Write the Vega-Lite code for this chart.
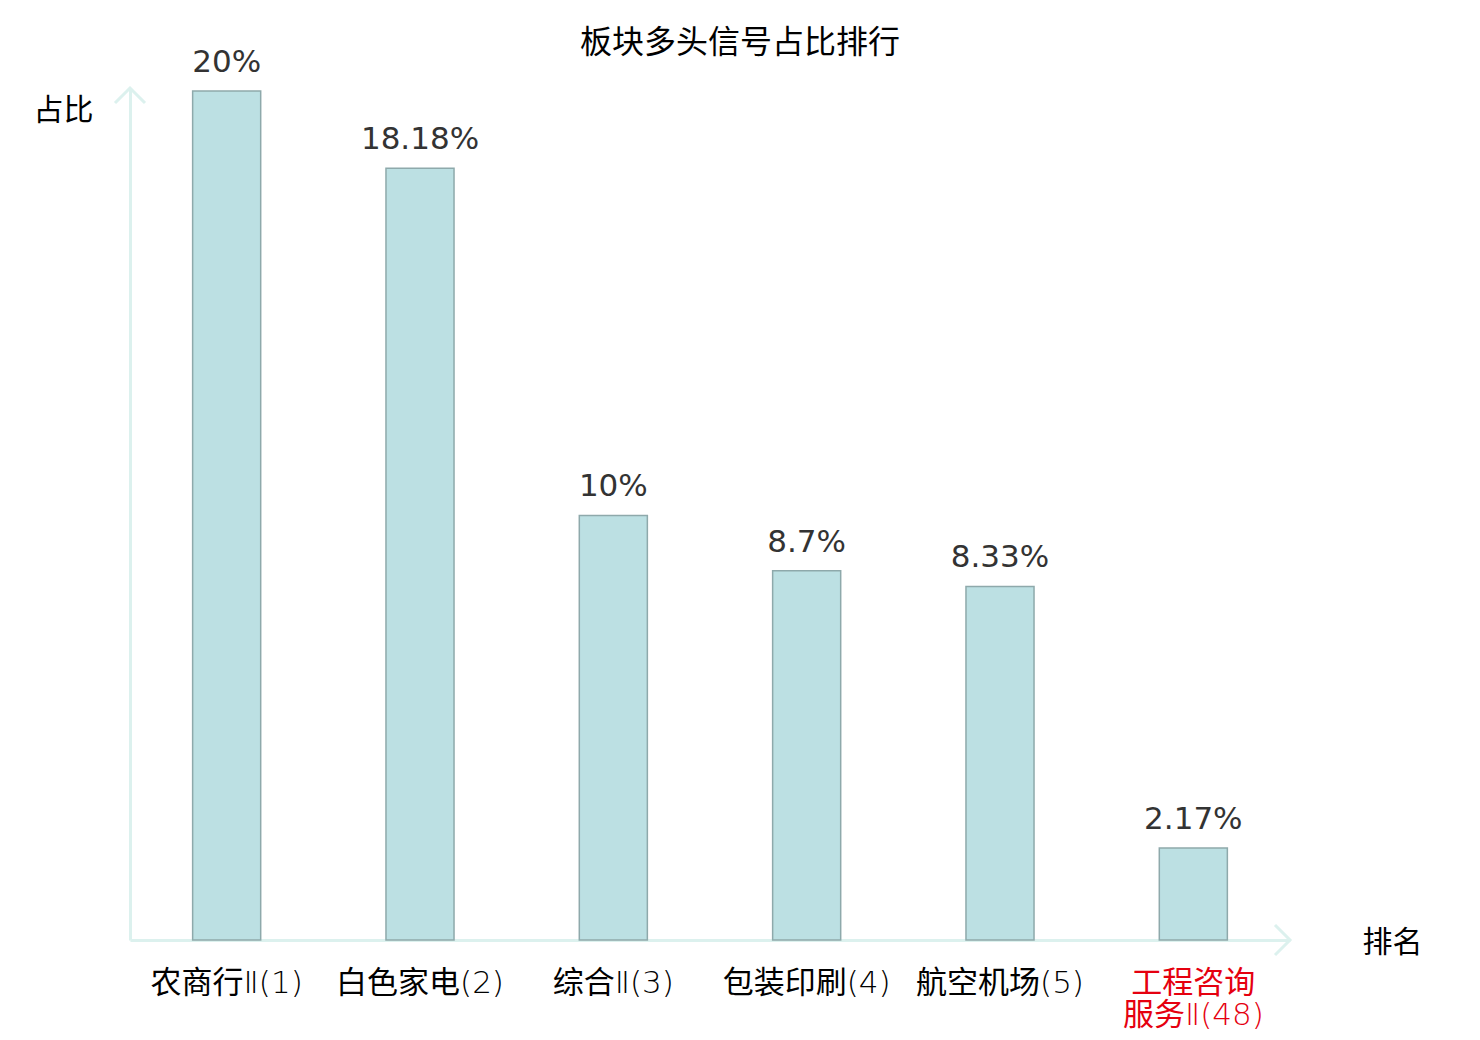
{
  "$schema": "https://vega.github.io/schema/vega-lite/v6.json",
  "autosize": "none",
  "width": 1160,
  "height": 852,
  "padding": {"left": 130, "top": 88, "right": 190, "bottom": 100},
  "background": "white",
  "title": {
    "text": "板块多头信号占比排行",
    "font": "Noto Sans CJK SC",
    "fontSize": 32,
    "fontWeight": "normal",
    "color": "#000000",
    "anchor": "middle",
    "frame": "group",
    "dx": 30,
    "offset": -13
  },
  "data": {
    "values": [
      {"name": "农商行Ⅱ(1)", "ratio": 0.2},
      {"name": "白色家电(2)", "ratio": 0.1818},
      {"name": "综合Ⅱ(3)", "ratio": 0.1},
      {"name": "包装印刷(4)", "ratio": 0.087},
      {"name": "航空机场(5)", "ratio": 0.0833},
      {"name": "工程咨询服务Ⅱ(48)", "ratio": 0.0217}
    ]
  },
  "encoding": {
    "x": {
      "field": "name",
      "type": "nominal",
      "sort": null,
      "scale": {"paddingInner": 0.648, "paddingOuter": 0.324},
      "axis": {
        "title": "排名",
        "titleFont": "Noto Sans CJK SC",
        "titleFontSize": 30,
        "titleFontWeight": "normal",
        "titleColor": "#000000",
        "titleAngle": 0,
        "titleAlign": "left",
        "titleBaseline": "middle",
        "titleX": 1232,
        "titleY": 2,
        "labelAngle": 0,
        "labelFont": "'DejaVu Sans Light', 'Noto Sans CJK SC'",
        "labelFontSize": 31,
        "labelLineHeight": 32,
        "labelBaseline": "top",
        "labelPadding": 28,
        "labelOverlap": false,
        "labelExpr": "datum.value == '工程咨询服务Ⅱ(48)' ? ['工程咨询', '服务Ⅱ(48)'] : datum.value",
        "labelColor": {
          "condition": {"test": "datum.value == '工程咨询服务Ⅱ(48)'", "value": "#e5000f"},
          "value": "#000000"
        },
        "ticks": false,
        "domainColor": "#dcf1ee",
        "domainWidth": 3
      }
    },
    "y": {
      "field": "ratio",
      "type": "quantitative",
      "scale": {"domain": [0, 0.2007], "nice": false},
      "axis": {
        "title": "占比",
        "titleFont": "Noto Sans CJK SC",
        "titleFontSize": 30,
        "titleFontWeight": "normal",
        "titleColor": "#000000",
        "titleAngle": 0,
        "titleAlign": "left",
        "titleBaseline": "middle",
        "titleX": -97,
        "titleY": 22,
        "labels": false,
        "ticks": false,
        "grid": false,
        "domainColor": "#dcf1ee",
        "domainWidth": 3
      }
    }
  },
  "layer": [
    {
      "mark": {"type": "bar", "fill": "#bce0e3", "stroke": "#8ea9ab", "strokeWidth": 1.5}
    },
    {
      "mark": {
        "type": "text",
        "font": "DejaVu Sans",
        "fontSize": 31,
        "color": "#333333",
        "baseline": "alphabetic",
        "dy": -19
      },
      "encoding": {
        "text": {"field": "ratio", "type": "quantitative", "format": ".4~%"}
      }
    },
    {
      "data": {"values": [{"axis": "y"}]},
      "mark": {
        "type": "point",
        "shape": "M-1,1L0,0L1,1",
        "size": 900,
        "filled": false,
        "stroke": "#dcf1ee",
        "strokeWidth": 3,
        "opacity": 1
      },
      "encoding": {"x": {"value": 0}, "y": {"value": 0}}
    },
    {
      "data": {"values": [{"axis": "x"}]},
      "mark": {
        "type": "point",
        "shape": "M-1,-1L0,0L-1,1",
        "size": 900,
        "filled": false,
        "stroke": "#dcf1ee",
        "strokeWidth": 3,
        "opacity": 1
      },
      "encoding": {"x": {"value": "width"}, "y": {"value": "height"}}
    }
  ],
  "config": {
    "view": {"stroke": null}
  }
}
